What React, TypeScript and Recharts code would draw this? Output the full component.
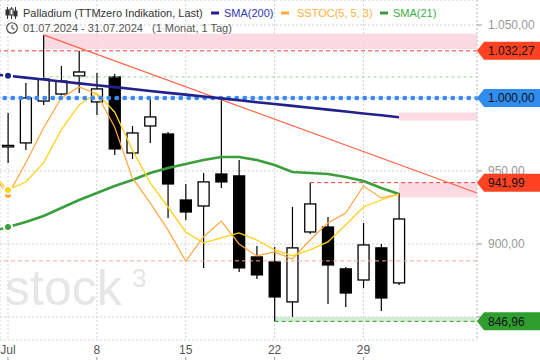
import {
  Bar,
  CartesianGrid,
  ComposedChart,
  Line,
  ReferenceArea,
  ReferenceDot,
  ReferenceLine,
  XAxis,
  YAxis,
} from "recharts";

// trading days, index -1 = 28.06 (only used so the indicator lines reach the left edge)
const dayIdx = [-1, 0, 1, 2, 3, 4, 5, 6, 7, 8, 9, 10, 11, 12, 13, 14, 15, 16, 17, 18, 19, 20, 21, 22];
const days = ["28.06", "01.07", "02.07", "03.07", "04.07", "05.07", "08.07", "09.07", "10.07", "11.07", "12.07", "15.07", "16.07", "17.07", "18.07", "19.07", "22.07", "23.07", "24.07", "25.07", "26.07", "29.07", "30.07", "31.07"];

const open = [null, 966.5, 969.2, 997.9, 1002.7, 1015.1, 997.3, 1014.4, 962.3, 980.8, 975.3, 930.1, 926.0, 947.9, 946.6, 891.1, 887.7, 860.3, 908.2, 911.6, 882.9, 875.3, 897.3, 873.3];
const high = [null, 989.7, 1010.3, 1043.2, 1021.9, 1032.27, 1017.1, 1016.4, 980.8, 1000.7, 976.7, 941.1, 948.6, 1000.0, 957.5, 898.6, 897.9, 925.3, 941.99, 918.5, 884.2, 914.4, 900.0, 934.9];
const low = [null, 955.5, 964.4, 995.2, 1001.8, 1003.4, 988.4, 961.0, 958.2, 969.2, 917.8, 916.4, 883.6, 938.4, 880.8, 876.0, 846.96, 850.0, 906.8, 858.9, 856.8, 869.9, 854.1, 871.9];
const close = [null, 967.5, 1000.0, 1013.0, 1011.6, 1017.8, 1006.2, 965.1, 976.0, 987.0, 941.1, 921.9, 942.5, 942.5, 883.6, 878.8, 863.7, 897.3, 927.4, 885.6, 866.4, 899.3, 863.0, 917.1];

const sma200 = [1016.4, 1015.2, 1013.9, 1012.6, 1011.3, 1010.0, 1008.7, 1007.4, 1006.1, 1004.8, 1003.5, 1002.3, 1001.0, 999.7, 998.4, 997.1, 995.9, 994.6, 993.3, 992.0, 990.7, 989.4, 988.1, 986.8];
const sma21 = [908.2, 911.6, 915.0, 919.1, 924.6, 930.1, 934.9, 939.7, 943.8, 948.6, 952.0, 954.8, 957.5, 959.6, 959.6, 957.5, 954.1, 949.3, 948.6, 947.9, 945.9, 943.1, 938.3, 934.2];
const stocK = [950.0, 933.5, 955.5, 979.4, 1000.0, 1007.5, 1002.7, 980.1, 945.2, 928.1, 909.6, 888.3, 904.8, 915.7, 900.0, 891.8, 894.5, 889.7, 902.7, 914.4, 921.2, 939.7, 931.5, 934.2];
const stocD = [949.3, 937.0, 942.4, 955.5, 978.1, 995.2, 1003.4, 990.4, 964.4, 941.8, 925.3, 908.2, 900.7, 904.1, 907.5, 902.7, 895.9, 891.8, 895.9, 901.4, 913.0, 925.3, 930.1, 934.2];

const tickIdx = [0, 5, 10, 15, 20];
const tickLabels = ["Jul", "8", "15", "22", "29"];
const priceTicks = [850, 900, 950, 1000, 1050];
// these axis labels sit under a price badge in the original
const coveredTicks = [850, 1000];

// trend line through the 03.07 and 17.07 highs
const trendFrom = { x: 2, y: 1043.2 };
const trendTo = { x: 26.39, y: 934.9 };

const X_MIN = -0.45;
const X_MAX = 26.39;

const rows = dayIdx.map((i, k) => ({
  i,
  day: days[k],
  open: open[k],
  high: high[k],
  low: low[k],
  close: close[k],
  sma200: sma200[k],
  sma21: sma21[k],
  k: stocK[k],
  d: stocD[k],
}));

const fmt = (v: number) => {
  const [a, b] = v.toFixed(2).split(".");
  return a.replace(/\B(?=(\d{3})+(?!\d))/g, ".") + "," + b;
};

const Candle = (props: any) => {
  const { x, y, width, height, payload } = props;
  if (!payload || payload.open == null) return null;
  const { open, close, high, low } = payload;
  const top = Math.min(y, y + height);
  const h = Math.abs(height);
  const ppu = h / (high - low);
  const cx = x + width / 2;
  const bodyTop = top + (high - Math.max(open, close)) * ppu;
  const bodyBot = top + (high - Math.min(open, close)) * ppu;
  const up = close >= open;
  return (
    <g>
      <line x1={cx} x2={cx} y1={top} y2={top + h} stroke="#000" strokeWidth={1.2} />
      <rect
        x={cx - 5.5}
        y={bodyTop}
        width={11}
        height={Math.max(1.5, bodyBot - bodyTop)}
        fill={up ? "#fff" : "#000"}
        stroke="#000"
        strokeWidth={1.3}
      />
    </g>
  );
};

const XTick = (props: any) => {
  const { x, payload } = props;
  const label = tickLabels[tickIdx.indexOf(payload.value)];
  return (
    <g>
      <text x={x} y={354} textAnchor="middle" fontSize={12} fill="#555">
        {label}
      </text>
      <line x1={x} x2={x} y1={357} y2={360} stroke="#999" />
    </g>
  );
};

const YTick = (props: any) => {
  const { x, y, payload } = props;
  if (coveredTicks.includes(payload.value)) return null;
  return (
    <text x={x} y={y} dy="0.355em" textAnchor="start" fontSize={12} fill="#999">
      {fmt(payload.value)}
    </text>
  );
};

const badge = (color: string, value: number) => (p: any) => {
  const { cx, cy } = p;
  if (cx == null || cy == null) return null;
  return (
    <g>
      <polygon
        points={`${cx},${cy} ${cx + 7},${cy - 9} ${cx + 63},${cy - 9} ${cx + 63},${cy + 9} ${cx + 7},${cy + 9}`}
        fill={color}
      />
      <text x={cx + 11} y={cy} dy="0.36em" fontSize={12} fill="#111">
        {fmt(value)}
      </text>
    </g>
  );
};

export default function App() {
  return (
    <div
      style={{
        position: "absolute",
        left: 0,
        top: 0,
        width: 540,
        height: 360,
        background: "#fff",
        fontFamily: "'Liberation Sans', Arial, sans-serif",
      }}
    >
      <svg width={540} height={360} style={{ position: "absolute", left: 0, top: 0 }}>
        <text x={5} y={305} fontSize={50} fill="#e6e6e6" fontFamily="'Liberation Sans', Arial, sans-serif">
          stock
        </text>
        <text x={132} y={287} fontSize={26} fill="#e6e6e6" fontFamily="'Liberation Sans', Arial, sans-serif">
          3
        </text>
      </svg>
      <div style={{ position: "absolute", left: 0, top: 0 }}>
        <ComposedChart width={540} height={360} data={rows} margin={{ top: 0, right: 0, bottom: 0, left: 0 }}>
          <CartesianGrid stroke="#d2d2d2" strokeDasharray="2 2" />
          <XAxis
            dataKey="i"
            type="number"
            domain={[X_MIN, X_MAX]}
            allowDataOverflow
            ticks={tickIdx}
            tick={<XTick />}
            axisLine={false}
            tickLine={false}
            height={20}
          />
          <YAxis
            orientation="right"
            width={63}
            domain={[834.2, 1067.1]}
            allowDataOverflow
            ticks={priceTicks}
            tick={<YTick />}
            tickSize={5}
            tickMargin={6}
            tickLine={{ stroke: "#999" }}
            axisLine={{ stroke: "#ccc", strokeDasharray: "2 2" }}
          />

          <ReferenceArea x1={2} x2={X_MAX} y1={1033.5} y2={1044} fill="#fbd3de" fillOpacity={0.85} stroke="none" />
          <ReferenceArea x1={22} x2={X_MAX} y1={984.5} y2={990} fill="#fbd3de" fillOpacity={0.85} stroke="none" />
          <ReferenceArea x1={22} x2={X_MAX} y1={932} y2={942} fill="#fbd3de" fillOpacity={0.85} stroke="none" />
          <ReferenceArea x1={15} x2={X_MAX} y1={846.96} y2={850} fill="#cdeccd" fillOpacity={0.9} stroke="none" />

          <ReferenceLine y={888.4} stroke="#f4a79c" strokeDasharray="4 3" />
          <ReferenceLine y={1032.27} stroke="#e8412c" strokeDasharray="4 3" />
          <ReferenceLine
            segment={[{ x: 2, y: 1014.4 }, { x: X_MAX, y: 1014.4 }]}
            stroke="#9fd09f"
            strokeDasharray="3 3"
          />
          <ReferenceLine
            segment={[{ x: 17, y: 941.99 }, { x: X_MAX, y: 941.99 }]}
            stroke="#e8412c"
            strokeDasharray="4 3"
          />
          <ReferenceLine
            segment={[{ x: 15, y: 846.96 }, { x: X_MAX, y: 846.96 }]}
            stroke="#2f9e2f"
            strokeDasharray="4 3"
          />

          <Bar
            dataKey={(d: any) => (d.open == null ? null : [d.low, d.high])}
            barSize={12}
            shape={<Candle />}
            isAnimationActive={false}
          />

          <Line dataKey="sma21" stroke="#3a9e3a" strokeWidth={2.6} dot={false} isAnimationActive={false} />
          <Line dataKey="k" stroke="#ffa63d" strokeWidth={1.2} dot={false} isAnimationActive={false} />
          <Line dataKey="d" stroke="#ffd21a" strokeWidth={1.3} dot={false} isAnimationActive={false} />

          <ReferenceLine segment={[trendFrom, trendTo]} stroke="#ff6347" strokeWidth={1.2} />
          <ReferenceLine y={1000} stroke="#3a8cf0" strokeWidth={4.5} strokeDasharray="0.5 7.5" strokeLinecap="round" />
          <Line dataKey="sma200" stroke="#22208a" strokeWidth={2.6} dot={false} isAnimationActive={false} />

          <ReferenceDot x={X_MAX} y={1032.27} r={0} ifOverflow="visible" zIndex={2500} shape={badge("#ff4322", 1032.27)} />
          <ReferenceDot x={X_MAX} y={1000} r={0} ifOverflow="visible" zIndex={2500} shape={badge("#2f8cf0", 1000)} />
          <ReferenceDot x={X_MAX} y={941.99} r={0} ifOverflow="visible" zIndex={2500} shape={badge("#ff4322", 941.99)} />
          <ReferenceDot x={X_MAX} y={846.96} r={0} ifOverflow="visible" zIndex={2500} shape={badge("#2f9e2f", 846.96)} />
        </ComposedChart>
      </div>
      <svg
        width={540}
        height={40}
        style={{ position: "absolute", left: 0, top: 0, pointerEvents: "none" }}
        fontFamily="'Liberation Sans', Arial, sans-serif"
        fontSize={11}
      >
        {/* candlestick icon */}
        <g stroke="#333" strokeWidth={1} fill="none">
          <line x1={7.5} x2={7.5} y1={7} y2={19} />
          <rect x={6} y={10} width={3} height={5} fill="#333" />
          <line x1={11.5} x2={11.5} y1={7} y2={19} />
          <rect x={10} y={9} width={3} height={6} fill="#fff" />
          <line x1={15.5} x2={15.5} y1={7} y2={19} />
          <rect x={14} y={11} width={3} height={5} fill="#333" />
        </g>
        <text x={23} y={17} fill="#333">
          Palladium (TTMzero Indikation, Last)
        </text>
        <line x1={211} x2={219} y1={13} y2={13} stroke="#22208a" strokeWidth={3} />
        <text x={224} y={17} fill="#3434b4">
          SMA(200)
        </text>
        <line x1={281} x2={289} y1={13} y2={13} stroke="#ffa63d" strokeWidth={3} />
        <text x={297} y={17} fill="#ffb13d">
          SSTOC(5, 5, 3)
        </text>
        <line x1={380} x2={388} y1={13} y2={13} stroke="#3a9e3a" strokeWidth={3} />
        <text x={393} y={17} fill="#3cae4a">
          SMA(21)
        </text>
        {/* clock icon */}
        <g stroke="#444" strokeWidth={1.1} fill="none">
          <circle cx={12} cy={28} r={5.3} />
          <polyline points="12,25 12,28 14.5,29.5" />
        </g>
        <text x={23} y={32} fill="#555">
          01.07.2024 - 31.07.2024
        </text>
        <text x={152} y={32} fill="#555">
          (1 Monat, 1 Tag)
        </text>
      </svg>
    </div>
  );
}
